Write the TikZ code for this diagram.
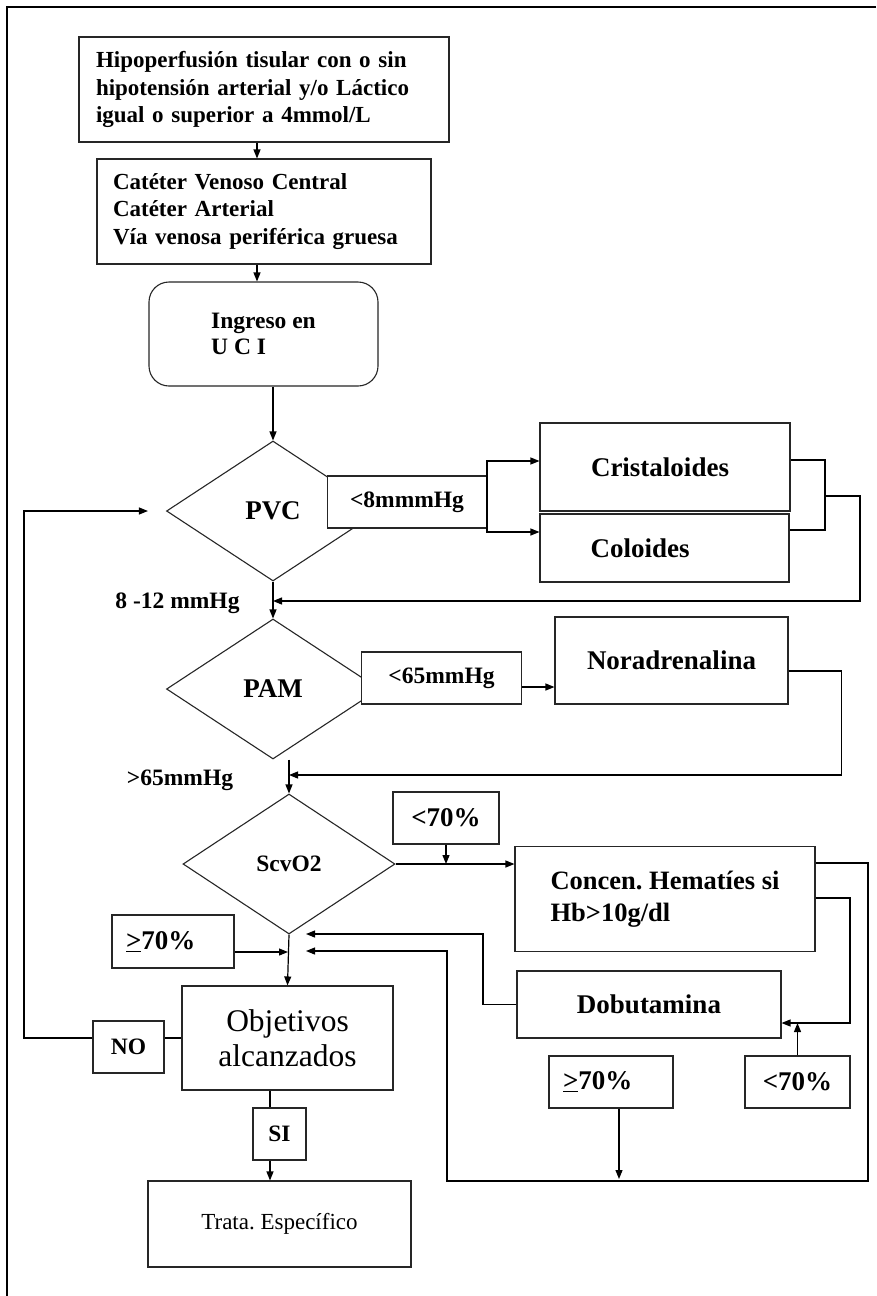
\documentclass[tikz,border=0pt]{standalone}
\usepackage{fontspec}
\setmainfont{Liberation Serif}
\usetikzlibrary{arrows.meta,shapes.geometric}
\frenchspacing

\begin{document}
\begin{tikzpicture}[
  x=1pt, y=-1pt, >={Triangle[length=9pt,width=7pt]}, line width=1.2pt,
  box/.style={draw=black!85, fill=white, line width=1.1pt, inner sep=0pt, align=center},
  top/.style={box, font=\fontsize{23}{27.5}\selectfont\bfseries, align=left, minimum height=105pt},
  big/.style={font=\fontsize{27}{32}\selectfont\bfseries},
  mid/.style={font=\fontsize{23.5}{28}\selectfont\bfseries},
  pct/.style={font=\fontsize{27}{30}\selectfont\bfseries},
  decis/.style={box, diamond, minimum width=213pt, minimum height=140pt},
  cond/.style={box, mid, minimum height=52pt},
  res/.style={box, font=\fontsize{31.5}{35}\selectfont}
]
\useasboundingbox (0,0) rectangle (876,1296);
\draw[line width=2.5pt] (876,7) -- (7,7) -- (7,1296);

\node[top, minimum width=370pt, text width=336pt] (hipo) at (264,89.5) {Hipoperfusión tisular con o sin\\hipotensión arterial y/o Láctico\\igual o superior a 4mmol/L};
\node[top, minimum width=334pt, text width=302pt] (cat) at (264,211.5) {Catéter Venoso Central\\Catéter Arterial\\Vía venosa periférica gruesa};
\node[box, rounded corners=20pt, minimum width=229pt, minimum height=104pt, align=left, font=\fontsize{23.5}{26}\selectfont\bfseries] (uci) at (263.5,334) {Ingreso en\\U C I};

\node[decis, big] (pvc) at (273,511) {PVC};
\node[cond, minimum width=159pt] (lbl8) at (407,502) {<8mmmHg};
\node[box, big, minimum width=250pt, minimum height=88pt, text width=148pt, align=left] (cris) at (665,467) {Cristaloides};
\node[box, big, minimum width=249pt, minimum height=68pt, text width=148pt, align=left] (colo) at (664.5,548) {Coloides};
\node[mid] (r812) at (177.5,603) {8 -12 mmHg};

\node[decis, big] (pam) at (273,689) {PAM};
\node[cond, minimum width=160pt] (lbl65) at (441.5,678) {<65mmHg};
\node[box, big, minimum width=233pt, minimum height=87pt] (nora) at (671.5,660.5) {Noradrenalina};
\node[mid] (r65) at (180,780) {>65mmHg};

\node[decis, mid, minimum width=212pt] (scv) at (289,864) {ScvO2};
\node[cond, pct, minimum width=106pt] (lt70a) at (446,818) {<70\%};
\node[box, minimum width=300pt, minimum height=105pt, align=left, font=\fontsize{26.5}{32}\selectfont\bfseries] (conc) at (665,899) {Concen. Hematíes si\\Hb>10g/dl};
\node[cond, pct, minimum width=122pt, minimum height=53pt, text width=94pt, align=left] (ge70a) at (173,941.5) {\underline{>}70\%};
\node[box, big, minimum width=264pt, minimum height=67pt] (dobu) at (649,1004.5) {Dobutamina};

\node[res, minimum width=211pt, minimum height=104pt] (obj) at (287.5,1038) {Objetivos\\alcanzados};
\node[cond, minimum width=71pt] (no) at (128.5,1047) {NO};
\node[cond, minimum width=53pt] (si) at (279.5,1134) {SI};
\node[box, minimum width=263pt, minimum height=86pt, font=\fontsize{23}{28}\selectfont] (trata) at (279.5,1224) {Trata. Específico};
\node[cond, pct, minimum width=124pt, text width=96pt, align=left] (ge70b) at (611,1082) {\underline{>}70\%};
\node[cond, pct, minimum width=105pt] (lt70b) at (797.5,1082) {<70\%};

\coordinate (jc) at (825,496);
\coordinate (j1) at (273,601);
\coordinate (j2) at (289,775);
\coordinate (cr) at (868,1181);
\coordinate (cl) at (447,951);
\coordinate (in2) at (306,951);
\coordinate (kr) at (850,1023);
\coordinate (dk) at (483,934);
\coordinate (in1) at (306,934);
\coordinate (lft) at (24,511);

\draw[->] ([xshift=-7pt]hipo.south) -- ([xshift=-7pt]cat.north);
\draw[->] ([xshift=-7pt]cat.south) -- ([xshift=-7pt]cat.south |- uci.north);
\draw[->] (uci.south -| pvc.north) -- (pvc.north);
\draw[->] (pvc.south) -- (pam.north);
\draw[->] (lbl8.east) |- ([yshift=6pt]cris.west);
\draw[->] (lbl8.east) |- ([yshift=16pt]colo.west);
\draw ([yshift=7pt]cris.east) -| (jc) |- ([yshift=18pt]colo.east);
\draw[->] (jc) -- ++(35,0) |- (j1);
\draw[->] ([yshift=-9pt]lbl65.east) -- ([yshift=-9pt]lbl65.east -| nora.west);
\draw[->] ([yshift=-10.5pt]nora.east) -- ++(53,0) |- (j2);
\draw[->] (pam.south -| scv.north) -- (scv.north);
\draw[->] (scv.east) -- (scv.east -| conc.west);
\draw[->] (lt70a.south) -- (lt70a.south |- scv.east);
\draw[->] ([yshift=36pt]conc.east) -| (cr) -| (cl) -- (in2);
\draw[->] ([yshift=1pt]conc.east) -| (kr) -- (kr -| dobu.east);
\draw[->] (lt70b.north) -- (lt70b.north |- kr);
\draw[->] (dobu.west) -| (dk) -- (in1);
\draw[->, shorten >=1pt] ([yshift=-10.5pt]ge70a.east) -- ([yshift=-10.5pt]ge70a.east -| scv.south);
\draw[->] (scv.south) -- (obj.north);
\draw (obj.west) -- (obj.west -| no.east);
\draw[->, shorten >=18pt] (obj.west -| no.west) -| (lft) -- (pvc.west);
\draw ([xshift=-17.5pt]obj.south) -- ([xshift=-17.5pt]obj.south |- si.north);
\draw[->] ([xshift=-17.5pt]obj.south |- si.south) -- ([xshift=-17.5pt]obj.south |- trata.north);
\draw[->, shorten >=2pt] ([xshift=8pt]ge70b.south) -- ([xshift=8pt]ge70b.south |- cr);
\end{tikzpicture}
\end{document}
